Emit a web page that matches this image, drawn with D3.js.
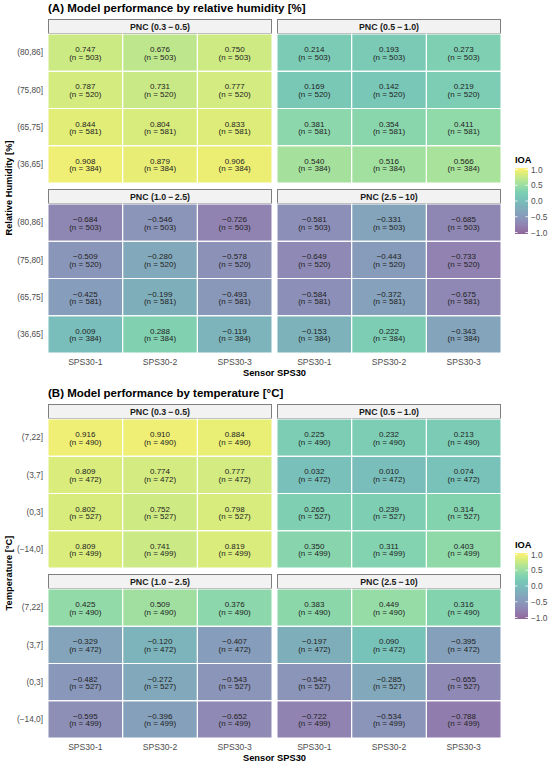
<!DOCTYPE html>
<html><head><meta charset="utf-8">
<script src="https://cdn.jsdelivr.net/npm/d3@7"></script>
<style>
body{margin:0;background:#fff}
text{font-family:"Liberation Sans",Arial,Helvetica,sans-serif}
</style>
</head><body>
<svg id="chart" width="550" height="765"></svg>
<script>
// ---------------- DATA ----------------
const sensors = ["SPS30-1", "SPS30-2", "SPS30-3"];
const sizeBins = ["PNC (0.3\u2009\u2212\u20090.5)", "PNC (0.5\u2009\u2212\u20091.0)", "PNC (1.0\u2009\u2212\u20092.5)", "PNC (2.5\u2009\u2212\u200910)"];

const rhBins = ["(80,86]", "(75,80]", "(65,75]", "(36,65]"];
const rhN = [503, 520, 581, 384];
const ioaRH_03_05 = [[0.747, 0.676, 0.750], [0.787, 0.731, 0.777], [0.844, 0.804, 0.833], [0.908, 0.879, 0.906]];
const ioaRH_05_10 = [[0.214, 0.193, 0.273], [0.169, 0.142, 0.219], [0.381, 0.354, 0.411], [0.540, 0.516, 0.566]];
const ioaRH_10_25 = [[-0.684, -0.546, -0.726], [-0.509, -0.280, -0.578], [-0.425, -0.199, -0.493], [0.009, 0.288, -0.119]];
const ioaRH_25_10 = [[-0.581, -0.331, -0.685], [-0.649, -0.443, -0.733], [-0.584, -0.372, -0.675], [-0.153, 0.222, -0.343]];

const tempBins = ["(7,22]", "(3,7]", "(0,3]", "(\u221214,0]"];
const tempN = [490, 472, 527, 499];
const ioaT_03_05 = [[0.916, 0.910, 0.884], [0.809, 0.774, 0.777], [0.802, 0.752, 0.798], [0.809, 0.741, 0.819]];
const ioaT_05_10 = [[0.225, 0.232, 0.213], [0.032, 0.010, 0.074], [0.265, 0.239, 0.314], [0.350, 0.311, 0.403]];
const ioaT_10_25 = [[0.425, 0.509, 0.376], [-0.329, -0.120, -0.407], [-0.482, -0.272, -0.543], [-0.595, -0.396, -0.652]];
const ioaT_25_10 = [[0.383, 0.449, 0.316], [-0.197, 0.090, -0.395], [-0.542, -0.285, -0.655], [-0.722, -0.534, -0.788]];

const legendTicks = [1.0, 0.5, 0.0, -0.5, -1.0];

const panels = [
  {title: "(A) Model performance by relative humidity [%]", yTitle: "Relative Humidity [%]",
   bins: rhBins, n: rhN, values: [ioaRH_03_05, ioaRH_05_10, ioaRH_10_25, ioaRH_25_10], top: 0},
  {title: "(B) Model performance by temperature [\u00B0C]", yTitle: "Temperature [\u00B0C]",
   bins: tempBins, n: tempN, values: [ioaT_03_05, ioaT_05_10, ioaT_10_25, ioaT_25_10], top: 385}
];

// ---------------- DRAW ----------------
const svg = d3.select("#chart");
const color = d3.scaleSequential(d3.interpolateViridis).domain([-1, 1]);
const fillAlpha = 0.6;
const fmt = v => (v < 0 ? "\u2212" : "") + d3.format(".3f")(Math.abs(v));

const facetCols = [[48, 272], [277, 501]];
const stripH = 15, tileH = 149, rowGap = 6, firstStrip = 19;

panels.forEach(p => {
  const g = svg.append("g").attr("transform", `translate(0,${p.top})`);

  g.append("text").attr("x", 48).attr("y", 12)
    .attr("font-size", 11.5).attr("font-weight", "bold").attr("fill", "#000")
    .text(p.title);

  sizeBins.forEach((sz, fi) => {
    const col = fi % 2, row = Math.floor(fi / 2);
    const [x0, x1] = facetCols[col];
    const sTop = firstStrip + row * (stripH + tileH + rowGap);
    const tTop = sTop + stripH;
    const x = d3.scaleBand().domain(sensors).range([x0, x1]);
    const y = d3.scaleBand().domain(p.bins).range([tTop, tTop + tileH]);

    // strip
    g.append("rect").attr("x", x0 + 0.5).attr("y", sTop + 0.5)
      .attr("width", x1 - x0 - 1).attr("height", stripH - 1)
      .attr("fill", "#F2F2F2").attr("stroke", "#7F7F7F").attr("stroke-width", 1);
    g.append("text").attr("x", (x0 + x1) / 2).attr("y", sTop + stripH / 2 + 3)
      .attr("text-anchor", "middle").attr("font-size", 8.8).attr("font-weight", "bold")
      .attr("fill", "#1A1A1A").text(sz);

    const cells = [];
    p.bins.forEach((b, ri) => sensors.forEach((s, ci) => {
      cells.push({bin: b, sensor: s, v: p.values[fi][ri][ci], n: p.n[ri]});
    }));

    g.append("g").selectAll("rect").data(cells).join("rect")
      .attr("x", d => x(d.sensor)).attr("y", d => y(d.bin))
      .attr("width", x.bandwidth()).attr("height", y.bandwidth())
      .attr("fill", d => color(d.v)).attr("fill-opacity", fillAlpha);
    // white grid lines between tiles
    g.append("g").selectAll("rect").data(cells).join("rect")
      .attr("x", d => x(d.sensor)).attr("y", d => y(d.bin))
      .attr("width", x.bandwidth()).attr("height", y.bandwidth())
      .attr("fill", "none").attr("stroke", "#fff").attr("stroke-width", 1);

    const lbl = g.append("g").selectAll("text").data(cells).join("text")
      .attr("text-anchor", "middle").attr("font-size", 8).attr("fill", "#222");
    lbl.append("tspan")
      .attr("x", d => x(d.sensor) + x.bandwidth() / 2)
      .attr("y", d => y(d.bin) + y.bandwidth() / 2 - 0.5)
      .text(d => fmt(d.v));
    lbl.append("tspan")
      .attr("x", d => x(d.sensor) + x.bandwidth() / 2)
      .attr("y", d => y(d.bin) + y.bandwidth() / 2 + 7)
      .text(d => `(n = ${d.n})`);

    // y axis on left column
    if (col === 0) {
      const ax = g.append("g").attr("transform", `translate(${x0},0)`)
        .call(d3.axisLeft(y).tickSize(0).tickPadding(5));
      ax.select(".domain").remove();
      ax.selectAll("text").attr("font-size", 8.3).attr("fill", "#4D4D4D")
        .attr("font-family", "Liberation Sans, Arial, sans-serif");
    }
    // x axis on bottom row
    if (row === 1) {
      const ax = g.append("g").attr("transform", `translate(0,${tTop + tileH})`)
        .call(d3.axisBottom(x).tickSize(0).tickPadding(6));
      ax.select(".domain").remove();
      ax.selectAll("text").attr("font-size", 8.6).attr("fill", "#4D4D4D")
        .attr("font-family", "Liberation Sans, Arial, sans-serif");
    }
  });

  // axis titles
  g.append("text").attr("x", (facetCols[0][0] + facetCols[1][1]) / 2).attr("y", 376)
    .attr("text-anchor", "middle").attr("font-size", 9.3).attr("font-weight", "bold")
    .attr("fill", "#000").text("Sensor SPS30");
  g.append("text").attr("transform", "translate(12,188) rotate(-90)")
    .attr("text-anchor", "middle").attr("font-size", 9.3).attr("font-weight", "bold")
    .attr("fill", "#000").text(p.yTitle);

  // legend
  const barX = 515, barW = 13, barTop = 168, barBot = 234;
  const ly = d3.scaleLinear().domain([-1, 1]).range([barBot - 1.5, barTop + 1.5]);
  g.append("text").attr("x", barX).attr("y", 163)
    .attr("font-size", 9.3).attr("font-weight", "bold").attr("fill", "#000").text("IOA");
  const gradId = "grad" + p.top;
  const grad = svg.append("defs").append("linearGradient").attr("id", gradId)
    .attr("x1", 0).attr("y1", 1).attr("x2", 0).attr("y2", 0);
  d3.range(0, 1.0001, 0.05).forEach(t => {
    grad.append("stop").attr("offset", t).attr("stop-color", color(-1 + 2 * t));
  });
  g.append("rect").attr("x", barX).attr("y", barTop).attr("width", barW)
    .attr("height", barBot - barTop).attr("fill", `url(#${gradId})`).attr("fill-opacity", fillAlpha);
  const lg = g.append("g").selectAll("g").data(legendTicks).join("g");
  lg.append("line").attr("x1", barX).attr("x2", barX + 2.5)
    .attr("y1", d => ly(d)).attr("y2", d => ly(d)).attr("stroke", "#fff").attr("stroke-width", 0.8);
  lg.append("line").attr("x1", barX + barW - 2.5).attr("x2", barX + barW)
    .attr("y1", d => ly(d)).attr("y2", d => ly(d)).attr("stroke", "#fff").attr("stroke-width", 0.8);
  lg.append("text").attr("x", barX + barW + 3).attr("y", d => ly(d) + 3)
    .attr("font-size", 8.3).attr("fill", "#4D4D4D")
    .text(d => (d < 0 ? "\u2212" : "") + d3.format(".1f")(Math.abs(d)));
});
</script>
</body></html>
